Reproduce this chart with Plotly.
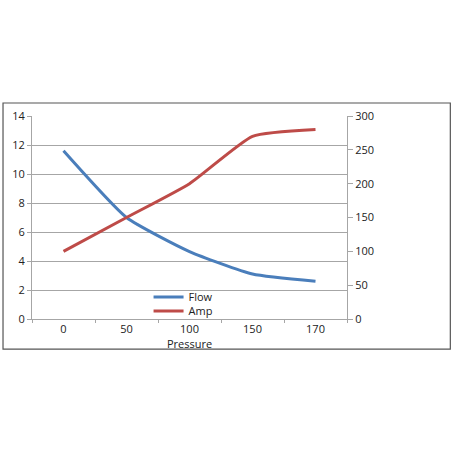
import plotly.graph_objects as go

pressure = ["0", "50", "100", "150", "170"]
flow = [11.6, 7.0, 4.65, 3.1, 2.6]
amp = [100, 150, 200, 270, 280]

FONT = "Open Sans"
GRID = "#a6a6a6"


def legend_box(y):
    """Single-entry legend placed at a given paper y, so the two rows sit tight."""
    return {
        "x": 0.37,
        "y": y,
        "xanchor": "left",
        "yanchor": "middle",
        "bgcolor": "rgba(0,0,0,0)",
        "font": {"size": 11},
        "itemwidth": 30,
    }


fig = go.Figure()
fig.add_trace(
    go.Scatter(
        x=pressure,
        y=flow,
        mode="lines",
        name="Flow",
        legend="legend",
        line={"color": "#4a7ebb", "width": 3, "shape": "spline", "smoothing": 0.5},
    )
)
fig.add_trace(
    go.Scatter(
        x=pressure,
        y=amp,
        mode="lines",
        name="Amp",
        yaxis="y2",
        legend="legend2",
        line={"color": "#be4b48", "width": 3, "shape": "spline", "smoothing": 0.5},
    )
)

fig.update_layout(
    width=452,
    height=452,
    margin={"l": 32, "r": 105, "t": 116, "b": 133, "autoexpand": False},
    paper_bgcolor="white",
    plot_bgcolor="white",
    font={"family": FONT, "size": 11, "color": "#222222"},
    showlegend=True,
    legend=legend_box(0.108),
    legend2=legend_box(0.039),
    xaxis={
        "type": "category",
        "range": [-0.5, 4.5],
        "automargin": False,
        "showline": True,
        "linecolor": GRID,
        "ticks": "outside",
        "tickson": "boundaries",
        "ticklen": 3,
        "tickcolor": GRID,
        "showgrid": False,
        "zeroline": False,
    },
    yaxis={
        "range": [0, 14],
        "dtick": 2,
        "automargin": False,
        "showline": True,
        "linecolor": GRID,
        "showgrid": True,
        "gridcolor": GRID,
        "ticks": "outside",
        "ticklen": 4,
        "tickcolor": GRID,
        "zeroline": False,
    },
    yaxis2={
        "range": [0, 300],
        "dtick": 50,
        "automargin": False,
        "overlaying": "y",
        "side": "right",
        "showline": True,
        "linecolor": GRID,
        "showgrid": False,
        "ticks": "outside",
        "ticklen": 5,
        "tickcolor": GRID,
        "zeroline": False,
    },
    annotations=[
        {
            "text": "Pressure",
            "xref": "paper",
            "yref": "paper",
            "x": 0.5,
            "y": -0.119,
            "xanchor": "center",
            "yanchor": "middle",
            "showarrow": False,
            "font": {"size": 11},
        }
    ],
    shapes=[
        {
            "type": "rect",
            "xref": "paper",
            "yref": "paper",
            "x0": -0.092,
            "x1": 1.328,
            "y0": -0.148,
            "y1": 1.064,
            "line": {"color": "#555555", "width": 1.2},
            "layer": "below",
        }
    ],
)

# drop the default 8px body margin so the figure sits at the page corner
fig.write_html(
    "out.html",
    config={"displayModeBar": False},
    post_script="document.body.style.margin = '0';",
)
